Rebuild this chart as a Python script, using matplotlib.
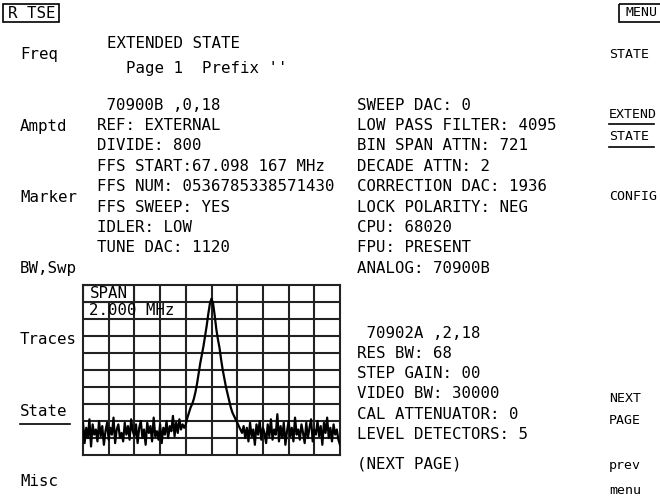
import numpy as np
import matplotlib
matplotlib.use('Agg')
import matplotlib.pyplot as plt
from matplotlib.patches import Rectangle

FONT = 'DejaVu Sans Mono'
FS = 11.3
FS_R = 9.5   # right hand softkeys are a bit narrower

# softkey labels
left_keys = ['Freq', 'Amptd', 'Marker', 'BW,Swp', 'Traces', 'State', 'Misc']
right_keys = ['STATE', 'EXTEND', 'STATE', 'CONFIG', 'NEXT', 'PAGE', 'prev', 'menu']

title_lines = ['EXTENDED STATE', "  Page 1  Prefix ''"]

block_900 = [' 70900B ,0,18', 'REF: EXTERNAL', 'DIVIDE: 800',
             'FFS START:67.098 167 MHz', 'FFS NUM: 0536785338571430',
             'FFS SWEEP: YES', 'IDLER: LOW', 'TUNE DAC: 1120']
block_dac = ['SWEEP DAC: 0', 'LOW PASS FILTER: 4095', 'BIN SPAN ATTN: 721',
             'DECADE ATTN: 2', 'CORRECTION DAC: 1936', 'LOCK POLARITY: NEG',
             'CPU: 68020', 'FPU: PRESENT', 'ANALOG: 70900B']
block_902 = [' 70902A ,2,18', 'RES BW: 68', 'STEP GAIN: 00', 'VIDEO BW: 30000',
             'CAL ATTENUATOR: 0', 'LEVEL DETECTORS: 5']

span_label = ['SPAN', '2.000 MHz']

# trace amplitude in graticule divisions above bottom (0..10)
noise_left = [1.9, 0.7, 1.6, 1.0, 2.1, 0.5, 1.8, 1.2, 1.5, 0.8, 2.0, 1.1, 1.7, 0.6,
              1.4, 1.9, 0.9, 1.6, 1.2, 2.2, 0.7, 1.5, 1.8, 1.0, 1.3, 0.8, 1.9, 1.2,
              1.7, 0.9, 2.1, 1.4, 1.1, 1.8, 0.7, 1.6, 2.0, 1.0, 1.5, 0.6, 1.9, 1.3,
              1.7, 0.8, 2.2, 1.1, 1.4, 0.9, 1.8, 0.7, 1.6, 1.2, 2.0, 1.0, 1.7, 1.4,
              2.3, 1.1, 1.9, 1.3, 2.1, 1.5, 1.8, 1.6]
peak = [1.8, 2.2, 2.5, 2.8, 3.0, 3.3, 3.7, 4.2, 4.8, 5.4, 5.9, 6.4, 7.0, 7.6, 8.3,
        8.9, 9.2, 8.9, 8.2, 7.4, 6.8, 6.3, 5.6, 5.0, 4.5, 4.0, 3.6, 3.2, 2.8, 2.5,
        2.3, 2.1, 1.9, 1.7, 1.5]
noise_right = [1.3, 1.7, 1.0, 1.6, 0.8, 1.9, 1.1, 1.5, 0.6, 1.8, 1.2, 2.0, 0.9, 1.6,
               1.3, 0.7, 1.8, 1.1, 2.1, 0.9, 1.5, 1.2, 2.4, 0.8, 1.7, 1.0, 1.9, 0.6,
               1.4, 2.0, 1.1, 1.6, 0.8, 2.2, 1.2, 1.5, 0.9, 1.8, 1.3, 0.7, 1.9, 1.0,
               1.6, 2.1, 0.8, 1.5, 1.2, 2.0, 1.1, 1.7, 0.6, 1.9, 1.3, 2.2, 1.0, 1.6,
               0.8, 1.8, 1.2, 1.5, 0.9, 0.6]
trace = np.array(noise_left + peak + noise_right)

fig = plt.figure(figsize=(6.6, 5), dpi=100)
ax = fig.add_axes([0, 0, 1, 1])
ax.set_xlim(0, 660)
ax.set_ylim(500, 0)
ax.axis('off')

def txt(x, y, s, fs=FS):
    ax.text(x, y, s, family=FONT, fontsize=fs, ha='left', va='center', color='black')

# boxed headers
ax.add_patch(Rectangle((3, 4), 56, 18, fill=False, lw=1.2, ec='black'))
txt(8, 13, 'R TSE')
ax.add_patch(Rectangle((619, 4), 45, 18, fill=False, lw=1.2, ec='black'))
txt(626, 13, 'MENU', FS_R)

# left softkeys
for s, y in zip(left_keys, [55, 126, 197, 269, 340, 411, 482]):
    txt(20, y, s)
ax.plot([20, 70], [424, 424], color='black', lw=1.2)

# right softkeys
for s, y in zip(right_keys, [55, 115, 137, 197, 398, 420, 466, 490]):
    txt(609, y, s, FS_R)
ax.plot([609, 654], [124, 124], color='black', lw=1.2)
ax.plot([609, 654], [147, 147], color='black', lw=1.2)

# title
txt(107, 44, title_lines[0])
txt(107, 68, title_lines[1])

for i, s in enumerate(block_900):
    txt(97, 105 + i * 20.4, s)
for i, s in enumerate(block_dac):
    txt(357, 105 + i * 20.4, s)
for i, s in enumerate(block_902):
    txt(357, 333 + i * 20.3, s)
txt(357, 464, '(NEXT PAGE)')

# graticule
g = fig.add_axes([83 / 660, (500 - 455) / 500, 257 / 660, 170 / 500])
g.set_xlim(0, 10)
g.set_ylim(0, 10)
g.set_xticks([])
g.set_yticks([])
for v in range(1, 10):
    g.axvline(v, color='#222222', lw=1.5, zorder=1)
    g.axhline(v, color='#222222', lw=1.5, zorder=1)
for sp in g.spines.values():
    sp.set_linewidth(1.5)
    sp.set_color('#222222')
g.add_patch(Rectangle((0, 9), 2, 1, fc='white', ec='#222222', lw=1.5, zorder=2))
g.text(0.25, 9.5, span_label[0], family=FONT, fontsize=FS, va='center', zorder=3)
g.text(0.25, 8.5, span_label[1], family=FONT, fontsize=FS, va='center', zorder=3)

x = np.linspace(0, 10, len(trace))
g.plot(x, trace, color='black', lw=1.6, zorder=4)

fig.savefig('out.png', dpi=100)
